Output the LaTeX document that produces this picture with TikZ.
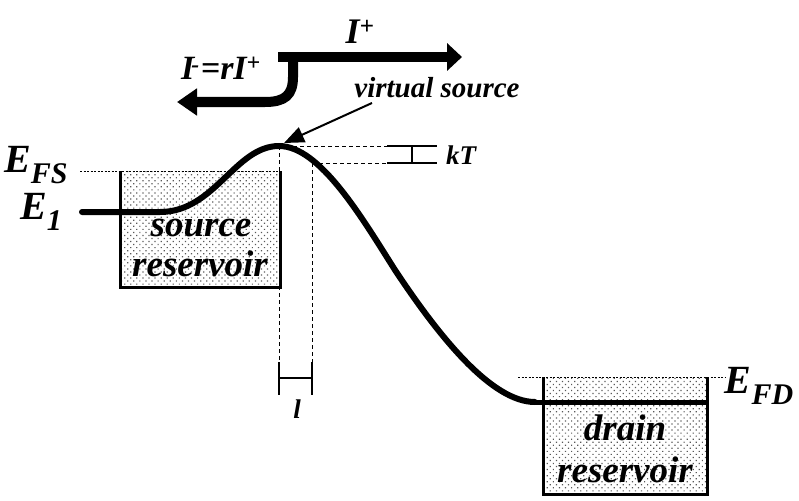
\documentclass[tikz,border=0pt]{standalone}
\usepackage{fontspec}
\setmainfont{Liberation Serif}
\usetikzlibrary{arrows.meta,patterns.meta}
\tikzset{
  lbl/.style={font=\bfseries\itshape, inner sep=0pt, anchor=base},
  band/.style={line width=6pt, line cap=round},
  boxline/.style={line width=3pt},
  guide/.style={line width=0.9pt, dash pattern=on 4pt off 3pt},
  level/.style={line width=1pt, dash pattern=on 2pt off 1.5pt},
  marker/.style={line width=2.5pt},
  dotfill/.style={pattern={Dots[distance=4.3pt,radius=0.85pt,angle=45]}, pattern color=black!65},
  bigarrow/.style={line width=10pt, -{Triangle[length=15pt,width=27pt]}},
}
\begin{document}
\begin{tikzpicture}[x=1pt,y=-1pt]
\useasboundingbox (0,0) rectangle (799,500);
% reservoirs fill
\fill[dotfill] (120,171) rectangle (280,287);
\fill[dotfill] (543,377) rectangle (707,494);
% levels
\draw[level] (80,171) -- (280,171);
\draw[level] (518,377) -- (725,377);
% guides
\draw[guide] (279,146) -- (279,362);
\draw[guide] (312,163) -- (312,362);
\draw[guide] (279,146) -- (387,146);
\draw[guide] (312,163) -- (387,163);
% boxes
\draw[boxline] (120,171) -- (120,287) -- (280,287) -- (280,171);
\draw[boxline] (543,377) -- (543,494) -- (707,494) -- (707,377);
% band
\coordinate (e1) at (82,212);
\coordinate (peak) at (279,146);
\coordinate (dr) at (535,402);
\draw[band] (e1) -- (160,212) .. controls (215,212) and (235,146) .. (peak)
  .. controls (320,146) and (362,218) .. (395,270)
  .. controls (440,338) and (492,402) .. (dr);
\draw[line width=5pt] (dr) -- (707,402);
% kT marker
\draw[marker] (387,146) -- (437,146);
\draw[marker] (387,163) -- (437,163);
\draw[marker] (412,146) -- (412,163);
\node[lbl, font=\bfseries\itshape\fontsize{27}{27}\selectfont, anchor=west] (kt) at (446,155) {kT};
% l marker
\draw[marker] (279,362) -- (279,395);
\draw[marker] (312,362) -- (312,395);
\draw[marker] (279,378) -- (312,378);
\node[lbl, font=\bfseries\itshape\fontsize{27}{27}\selectfont] (ll) at (297,418) {l};
% labels
\node[lbl, font=\bfseries\itshape\fontsize{40}{40}\selectfont, anchor=base west] (efs) at (4,172) {E\textsubscript{\fontsize{30}{30}\selectfont FS}};
\node[lbl, font=\bfseries\itshape\fontsize{40}{40}\selectfont, anchor=base west] (eone) at (20,219) {E\textsubscript{\fontsize{30}{30}\selectfont 1}};
\node[lbl, font=\bfseries\itshape\fontsize{40}{40}\selectfont, anchor=base east] (efd) at (794,393) {E\textsubscript{\fontsize{30}{30}\selectfont FD}};
\node[lbl, font=\bfseries\itshape\fontsize{37}{37}\selectfont] (src1) at (201,236) {source};
\node[lbl, font=\bfseries\itshape\fontsize{37}{37}\selectfont] (src2) at (200,276) {reservoir};
\node[lbl, font=\bfseries\itshape\fontsize{37}{37}\selectfont] (drn1) at (625,440) {drain};
\node[lbl, font=\bfseries\itshape\fontsize{37}{37}\selectfont] (drn2) at (625,482) {reservoir};
\node[lbl, font=\bfseries\itshape\fontsize{29}{29}\selectfont] (vs) at (437,98) {virtual source};
% virtual source arrow
\coordinate (vsa) at (372,103);
\draw[line width=2pt, -{Triangle[length=20pt,width=16pt]}] (vsa) -- (284,143);
% current arrows
\coordinate (ip0) at (278,57);
\coordinate (ip1) at (462,57);
\draw[bigarrow] (ip0) -- (ip1);
\coordinate (im1) at (177,102);
\draw[line width=10pt, -{Triangle[length=20pt,width=26pt]}] (293,55) -- (293,77) .. controls (293,95) and (285,102) .. (265,102) -- (im1);
\node[lbl, font=\bfseries\itshape\fontsize{36}{36}\selectfont] (ip) at (360,44) {I\textsuperscript{+}};
\node[lbl, font=\bfseries\itshape\fontsize{34}{34}\selectfont] (im) at (221,80) {I\textsuperscript{\kern-3pt\raisebox{-2pt}{-}}\kern1pt=rI\textsuperscript{+}};
\end{tikzpicture}
\end{document}
